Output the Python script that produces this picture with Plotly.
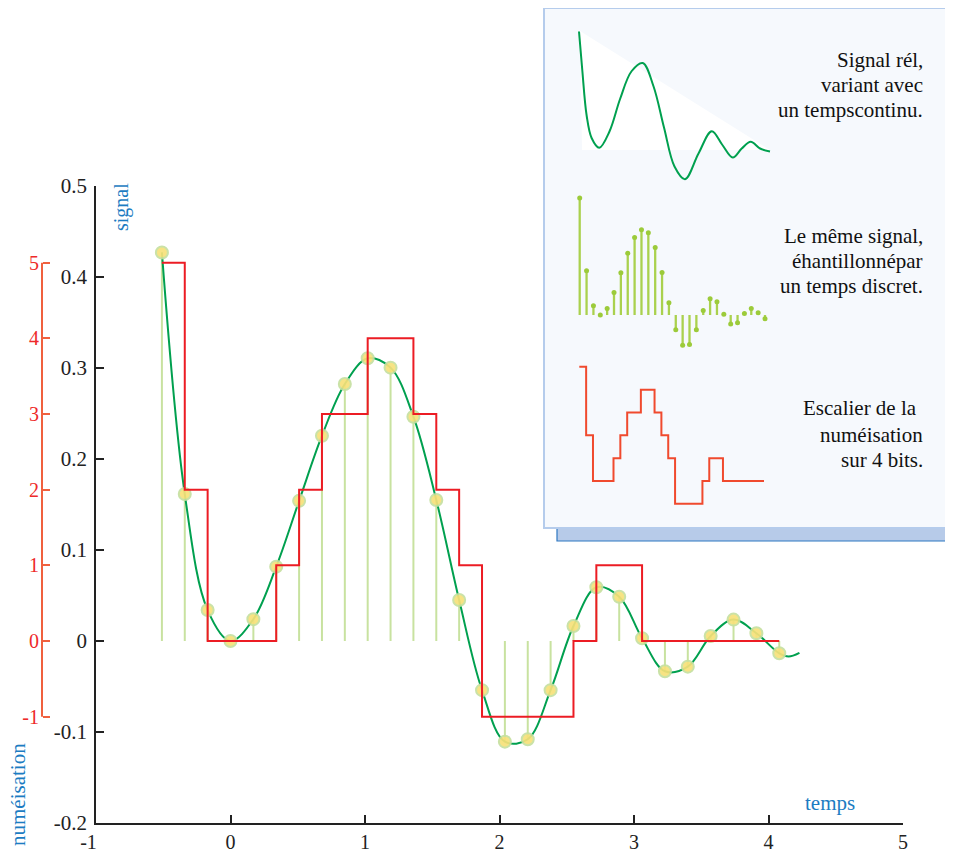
import plotly.graph_objects as go

# ---------------- data ----------------
sample_times = [-0.51, -0.34, -0.17, 0.00, 0.17, 0.34, 0.51, 0.68, 0.85, 1.02,
                1.19, 1.36, 1.53, 1.70, 1.87, 2.04, 2.21, 2.38, 2.55, 2.72,
                2.89, 3.06, 3.23, 3.40, 3.57, 3.74, 3.91, 4.08]
sample_values = [0.427, 0.1615, 0.034, 0.000, 0.024, 0.0817, 0.154, 0.2256, 0.2824, 0.3107,
                 0.3004, 0.2465, 0.155, 0.045, -0.054, -0.1106, -0.108, -0.054, 0.0165, 0.059,
                 0.0487, 0.003, -0.0333, -0.0282, 0.0055, 0.0235, 0.0085, -0.0135]

# continuous signal (samples + tail after the last sample)
signal_t = sample_times + [4.15, 4.23]
signal_v = sample_values + [-0.017, -0.013]

# quantized levels held from one sample to the next (4-bit staircase)
step_levels = [5, 2, 0, 0, 0, 1, 2, 3, 3, 4, 4, 3, 2, 1, -1, -1, -1, -1, 0, 1, 1,
               0, 0, 0, 0, 0, 0]

# small legend curve (own units)
legend_curve_u = [0.0, 0.17, 0.40, 0.66, 1.06, 1.60, 2.15, 2.75, 3.34, 3.90, 4.45,
                  5.00, 5.55, 6.25, 6.95, 7.50, 8.05, 8.52, 8.99, 9.48, 10.0]
legend_curve_v = [0.98, 0.47, -0.14, -0.44, -0.57, -0.35, 0.08, 0.45, 0.56, 0.25, -0.30,
                  -0.82, -0.99, -0.65, -0.35, -0.53, -0.70, -0.58, -0.49, -0.58, -0.62]

x_ticks = [-1, 0, 1, 2, 3, 4, 5]
x_tick_labels = ["-1\u00a0\u00a0\u00a0", "0", "1", "2", "3", "4", "5"]
y_ticks = [-0.2, -0.1, 0, 0.1, 0.2, 0.3, 0.4, 0.5]
y_tick_labels = ["-0.2", "-0.1", "0", "0.1", "0.2", "0.3", "0.4", "0.5"]
q_ticks = [-1, 0, 1, 2, 3, 4, 5]
q_tick_labels = ["-1", "0", "1", "2", "3", "4", "5"]

legend_lines_1 = ["Signal rél,", "variant avec", "un tempscontinu."]
legend_lines_2 = ["Le même signal,", "éhantillonnépar", "un temps discret."]
legend_lines_3 = ["Escalier de la", "numéisation", "sur 4 bits."]

# ---------------- layout helpers (page pixel -> paper) ----------------
PAGE_OFF = 8                      # default body margin of the html page
W, H = 953 - PAGE_OFF, 851 - PAGE_OFF
ML, MR, MT, MB = 12, 0, 0, 28
PW, PH = W - ML - MR, H - MT - MB


def fx(px):
    return (px - PAGE_OFF - ML) / PW


def fy(py):
    return (H - MB - (py - PAGE_OFF)) / PH


def rng(v0, p0, v1, p1, q0, q1):
    k = (v1 - v0) / (p1 - p0)
    return [v0 + (q0 - p0) * k, v0 + (q1 - p0) * k]


FONT = "Liberation Serif"
BLUE = "#1C7CC2"
GREEN = "#00A04F"
RED = "#EC1C24"
AXC = "#222222"

fig = go.Figure()

# stems
sx, sy = [], []
for t, v in zip(sample_times, sample_values):
    sx += [t, t, None]
    sy += [0, v, None]
fig.add_trace(go.Scatter(x=sx, y=sy, mode="lines",
                         line=dict(color="#C8E2A0", width=2),
                         hoverinfo="skip", showlegend=False))
# continuous signal
fig.add_trace(go.Scatter(x=signal_t, y=signal_v, mode="lines",
                         line=dict(color=GREEN, width=2, shape="spline", smoothing=1.0),
                         showlegend=False))
# sample markers
fig.add_trace(go.Scatter(x=sample_times, y=sample_values, mode="markers",
                         marker=dict(size=12, color="#F7E17A", opacity=0.92,
                                     line=dict(color="#C6E0A0", width=2)),
                         cliponaxis=False, showlegend=False))
# staircase on the quantization axis
fig.add_trace(go.Scatter(x=sample_times, y=step_levels + [step_levels[-1]],
                         xaxis="x", yaxis="y2", mode="lines",
                         line=dict(color=RED, width=2, shape="hv"),
                         showlegend=False))

# legend insets
fig.add_trace(go.Scatter(x=legend_curve_u, y=legend_curve_v, xaxis="x3", yaxis="y3",
                         mode="lines", line=dict(color=GREEN, width=2, shape="spline"),
                         showlegend=False))
lx, ly = [], []
for t, v in zip(sample_times, sample_values):
    lx += [t, t, None]
    ly += [0, v, None]
fig.add_trace(go.Scatter(x=lx, y=ly, xaxis="x4", yaxis="y4", mode="lines",
                         line=dict(color="#AAD14E", width=2.3), showlegend=False))
fig.add_trace(go.Scatter(x=sample_times, y=sample_values, xaxis="x4", yaxis="y4",
                         mode="markers", marker=dict(size=5, color="#9CCB3A"),
                         cliponaxis=False, showlegend=False))
fig.add_trace(go.Scatter(x=sample_times, y=step_levels + [step_levels[-1]],
                         xaxis="x5", yaxis="y5", mode="lines",
                         line=dict(color="#F04A2E", width=2, shape="hv"),
                         showlegend=False))

hidden = dict(visible=False, showgrid=False, zeroline=False, automargin=False)

shapes = [
    # panel shadow
    dict(type="rect", xref="paper", yref="paper", x0=fx(557), x1=fx(962),
         y0=fy(541), y1=fy(20), fillcolor="#B7CBE9",
         line=dict(color="#2F78C2", width=1.2), layer="below"),
    # panel
    dict(type="rect", xref="paper", yref="paper", x0=fx(544), x1=fx(946),
         y0=fy(528), y1=fy(8), fillcolor="#F6F9FD",
         line=dict(color="#B5CCEC", width=2), layer="below"),
    # white wedge behind the small curve
    dict(type="path", xref="paper", yref="paper", layer="below",
         path=f"M {fx(580)},{fy(31)} L {fx(770)},{fy(150)} L {fx(582)},{fy(150)} Z",
         fillcolor="#FFFFFF", line=dict(width=0)),
    # red quantization axis line (from -1 to 5 only)
    dict(type="line", xref="paper", yref="y2", x0=fx(42), x1=fx(42),
         y0=q_ticks[0], y1=q_ticks[-1], line=dict(color="#F0603E", width=2)),
]

annotations = [
    dict(text="signal", x=fx(121), y=fy(207), xref="paper", yref="paper",
         xanchor="center", yanchor="middle",
         textangle=-90, showarrow=False, font=dict(family=FONT, size=20, color=BLUE)),
    dict(text="numéisation", x=fx(18), y=fy(795), xref="paper", yref="paper",
         xanchor="center", yanchor="middle",
         textangle=-90, showarrow=False, font=dict(family=FONT, size=21, color=BLUE)),
    dict(text="temps", x=fx(830), y=fy(803), xref="paper", yref="paper",
         xanchor="center", yanchor="middle",
         showarrow=False, font=dict(family=FONT, size=21, color=BLUE)),
]
for lines, ys in ((legend_lines_1, (60, 85, 110)),
                  (legend_lines_2, (236, 261, 286)),
                  (legend_lines_3, (408, 435, 460))):
    for txt, yy in zip(lines, ys):
        xr = 919 if txt.startswith("Escalier") else 925
        annotations.append(dict(text=txt, x=fx(xr), y=fy(yy), xref="paper", yref="paper",
                                xanchor="right", yanchor="middle", showarrow=False,
                                font=dict(family=FONT, size=21, color="#111111")))

fig.update_layout(
    width=W, height=H,
    margin=dict(l=ML, r=MR, t=MT, b=MB, autoexpand=False),
    paper_bgcolor="white", plot_bgcolor="rgba(0,0,0,0)",
    font=dict(family=FONT, size=21, color=AXC),
    showlegend=False,
    xaxis=dict(domain=[fx(96), fx(903)], range=[-1, 5], anchor="y", automargin=False,
               tickmode="array", tickvals=x_ticks, ticktext=x_tick_labels,
               ticks="inside", ticklen=8, tickwidth=1.5, tickcolor=AXC,
               showline=True, linecolor=AXC, linewidth=1.5,
               showgrid=False, zeroline=False, ticklabelstandoff=0,
               tickfont=dict(family=FONT, size=20, color=AXC)),
    yaxis=dict(domain=[fy(823), fy(186)], range=[-0.2, 0.5], anchor="x", automargin=False,
               tickmode="array", tickvals=y_ticks, ticktext=y_tick_labels,
               ticks="inside", ticklen=8, tickwidth=1.5, tickcolor=AXC,
               showline=True, linecolor=AXC, linewidth=1.5,
               showgrid=False, zeroline=False, ticklabelstandoff=3,
               tickfont=dict(family=FONT, size=21, color=AXC)),
    yaxis2=dict(overlaying="y", anchor="free", position=fx(42), side="left",
                automargin=False,
                range=[-182 / 75.67, 455 / 75.67],
                tickmode="array", tickvals=q_ticks, ticktext=q_tick_labels,
                ticks="inside", ticklen=7, tickwidth=1.5, tickcolor="#F0603E",
                showline=False, showgrid=False, zeroline=False, ticklabelstandoff=3,
                tickfont=dict(family=FONT, size=20, color="#EE2A2A")),
    xaxis3=dict(domain=[fx(572), fx(777)], range=rng(0, 579, 10, 770, 572, 777),
                anchor="y3", **hidden),
    yaxis3=dict(domain=[fy(187), fy(22)], range=rng(1, 30, -1, 180, 187, 22),
                anchor="x3", **hidden),
    xaxis4=dict(domain=[fx(570), fx(775)], range=rng(-0.51, 579.7, 4.08, 765, 570, 775),
                anchor="y4", **hidden),
    yaxis4=dict(domain=[fy(355), fy(185)], range=rng(0, 315, 0.427, 198, 355, 185),
                anchor="x4", **hidden),
    xaxis5=dict(domain=[fx(570), fx(775)], range=rng(-0.51, 579.3, 4.08, 764, 570, 775),
                anchor="y5", **hidden),
    yaxis5=dict(domain=[fy(530), fy(345)], range=rng(0, 481, 4, 389.7, 530, 345),
                anchor="x5", **hidden),
    shapes=shapes,
    annotations=annotations,
)

fig.write_html("out.html")
